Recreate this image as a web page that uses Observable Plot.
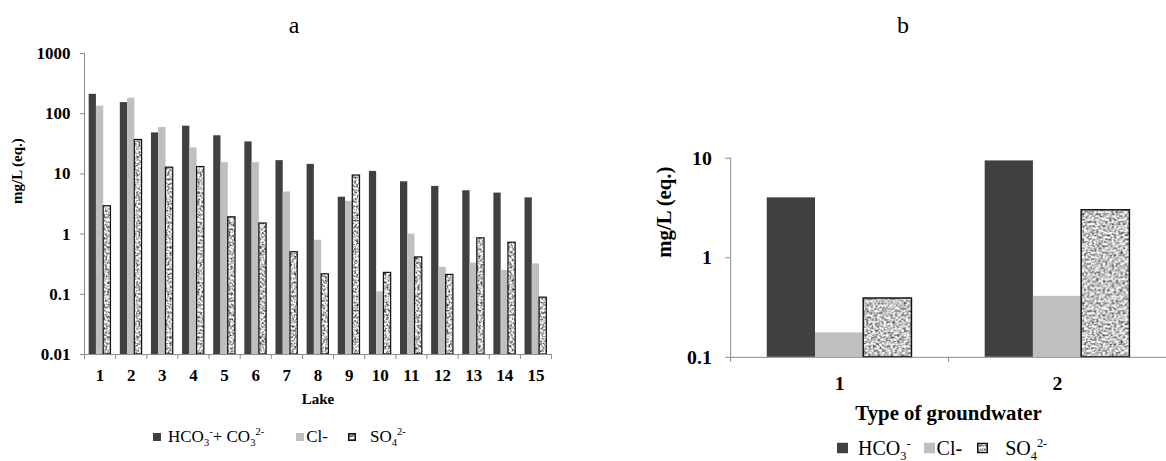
<!DOCTYPE html>
<html>
<head>
<meta charset="utf-8">
<script src="https://cdn.jsdelivr.net/npm/d3@7"></script>
<script src="https://cdn.jsdelivr.net/npm/@observablehq/plot@0.6"></script>
<style>
html, body { margin: 0; padding: 0; background: #fff; }
#root { position: relative; width: 1166px; height: 461px; overflow: hidden; background: #fff;
  font-family: "Liberation Serif", "Times New Roman", serif; color: #000; }
.title { position: absolute; font-size: 24px; transform: translate(-50%, -50%); }
.panel { position: absolute; }
.panel svg text { font-weight: bold; }
.legend { position: absolute; display: flex; align-items: center; white-space: nowrap; transform: translateY(-50%); }
.sw { display: block; flex: none; }
.legend sub, .legend sup { font-size: 0.62em; line-height: 0; }
#chartA g[aria-label="y-axis tick label"], #chartA g[aria-label="x-axis tick label"] { font-size: 17px; }
#chartB g[aria-label="y-axis tick label"], #chartB g[aria-label="x-axis tick label"] { font-size: 20px; }
</style>
</head>
<body>
<svg width="0" height="0" style="position:absolute">
  <defs>
    <filter id="noise" x="0" y="0" width="100%" height="100%" color-interpolation-filters="sRGB">
      <feTurbulence type="fractalNoise" baseFrequency="0.45" numOctaves="2" seed="5"/>
      <feColorMatrix type="matrix" values="1.7 0 0 0 -0.08  1.7 0 0 0 -0.08  1.7 0 0 0 -0.08  0 0 0 0 1"/>
    </filter>
    <pattern id="stipple" patternUnits="userSpaceOnUse" width="90" height="90">
      <rect width="90" height="90" filter="url(#noise)"/>
    </pattern>
  </defs>
</svg>
<div id="root">
  <div class="title" style="left:294px; top:25px;">a</div>
  <div class="title" style="left:903px; top:25px;">b</div>
  <div id="chartA" class="panel" style="left:0px; top:40px;"></div>
  <div id="chartB" class="panel" style="left:640px; top:130px;"></div>
  <div id="legendA" class="legend" style="left:153px; top:437px; font-size:17px;"></div>
  <div id="legendB" class="legend" style="left:837px; top:448px; font-size:20px;"></div>
</div>
<script>
// ---------- Panel a data (Lake 1..15) ----------
const lakes = [1, 2, 3, 4, 5, 6, 7, 8, 9, 10, 11, 12, 13, 14, 15];
const hco3A = [210, 153, 48, 62, 43, 34, 16.6, 14.4, 4.1, 11, 7.4, 6.2, 5.25, 4.8, 4.0];
const clA   = [133, 181, 59, 27, 15.4, 15.4, 5.0, 0.79, 3.5, 0.11, 1.0, 0.28, 0.33, 0.25, 0.32];
const so4A  = [2.9, 36.6, 12.7, 13, 1.9, 1.5, 0.50, 0.215, 9.4, 0.227, 0.41, 0.21, 0.85, 0.72, 0.088];
const yTicksA = [0.01, 0.1, 1, 10, 100, 1000];
const seriesLabelsA = ["HCO<sub>3</sub><sup>-</sup>+ CO<sub>3</sub><sup>2-</sup>", "Cl-", "SO<sub>4</sub><sup>2-</sup>"];

// ---------- Panel b data (Type of groundwater 1..2) ----------
const gwTypes = [1, 2];
const hco3B = [4.0, 9.4];
const clB   = [0.176, 0.41];
const so4B  = [0.39, 3.0];
const yTicksB = [0.1, 1, 10];
const seriesLabelsB = ["HCO<sub>3</sub><sup>-</sup>", "Cl-", "SO<sub>4</sub><sup>2-</sup>"];

// ---------- styles ----------
const seriesStyles = [
  {fill: "#404040", stroke: "none"},
  {fill: "#bfbfbf", stroke: "none"},
  {fill: "url(#stipple)", stroke: "#111"}
];
const axisGray = "#8c8c8c";
const fontFamily = '"Liberation Serif", "Times New Roman", serif';

function buildRows(cats, seriesArr) {
  return seriesArr.flatMap((vals, k) => vals.map((v, i) => ({cat: cats[i], k, value: v})));
}
function barX(groupFrac, n) {
  const w = groupFrac / n;
  return {
    x1: d => d.cat - groupFrac / 2 + d.k * w,
    x2: d => d.cat - groupFrac / 2 + (d.k + 1) * w
  };
}

function makeChart({cats, series, yTicks, groupFrac, strokeWidth, width, height, margins,
                    xLabel, tickPadX, xLabelDy, yLabelDx, tickSizeY, tickPadY, labelSize}) {
  const rows = buildRows(cats, series);
  const xDomain = [cats[0] - 0.5, cats[cats.length - 1] + 0.5];
  const bounds = cats.map(c => c - 0.5).concat([cats[cats.length - 1] + 0.5]);
  const yMin = yTicks[0];
  const pos = barX(groupFrac, series.length);
  const bars = series.map((_, k) => Plot.rectY(rows.filter(d => d.k === k), {
    ...pos, y1: yMin, y2: "value",
    fill: seriesStyles[k].fill, stroke: seriesStyles[k].stroke, strokeWidth
  }));
  return Plot.plot({
    width, height, ...margins,
    style: {fontFamily, background: "transparent", color: "#000", overflow: "visible"},
    x: {type: "linear", domain: xDomain, axis: null},
    y: {type: "log", domain: [yMin, yTicks[yTicks.length - 1]], axis: null},
    marks: [
      ...bars,
      Plot.ruleX([xDomain[0]], {stroke: axisGray}),
      Plot.ruleY([yMin], {stroke: axisGray}),
      Plot.axisY({ticks: yTicks, tickSize: tickSizeY, tickPadding: tickPadY, tickFormat: d => String(d),
        stroke: axisGray, fill: "#000", label: null}),
      Plot.axisX({ticks: bounds, tickSize: 5, tickFormat: () => "", stroke: axisGray, label: null}),
      Plot.axisX({ticks: cats, tickSize: 0, tickPadding: tickPadX, tickFormat: d => String(d),
        fill: "#000", label: null}),
      Plot.text([xLabel], {frameAnchor: "bottom", dy: xLabelDy, lineAnchor: "middle",
        fontSize: labelSize, fontWeight: "bold", fill: "#000"}),
      Plot.text(["mg/L (eq.)"], {frameAnchor: "left", dx: yLabelDx, rotate: -90, lineAnchor: "middle",
        fontSize: labelSize, fontWeight: "bold", fill: "#000"})
    ]
  });
}

document.getElementById("chartA").append(makeChart({
  cats: lakes, series: [hco3A, clA, so4A], yTicks: yTicksA, groupFrac: 0.70, strokeWidth: 1.2,
  width: 600, height: 370, margins: {marginTop: 13, marginBottom: 56, marginLeft: 84, marginRight: 49},
  xLabel: "Lake", tickPadX: 14, xLabelDy: 45, yLabelDx: -67, tickSizeY: 4, tickPadY: 10, labelSize: 15
}));

document.getElementById("chartB").append(makeChart({
  cats: gwTypes, series: [hco3B, clB, so4B], yTicks: yTicksB, groupFrac: 0.664, strokeWidth: 1.5,
  width: 531, height: 300, margins: {marginTop: 28, marginBottom: 71, marginLeft: 91, marginRight: 0},
  xLabel: "Type of groundwater", tickPadX: 19, xLabelDy: 57, yLabelDx: -67, tickSizeY: 5, tickPadY: 14, labelSize: 21
}));

function buildLegend(el, labels, swSize, gaps) {
  const ns = "http://www.w3.org/2000/svg";
  labels.forEach((lab, k) => {
    const sw = document.createElementNS(ns, "svg");
    sw.setAttribute("class", "sw");
    sw.setAttribute("width", swSize);
    sw.setAttribute("height", swSize);
    sw.style.marginLeft = (k === 0 ? 0 : gaps.between[k - 1]) + "px";
    const r = document.createElementNS(ns, "rect");
    const hasStroke = seriesStyles[k].stroke !== "none";
    r.setAttribute("x", hasStroke ? 0.75 : 0);
    r.setAttribute("y", hasStroke ? 0.75 : 0);
    r.setAttribute("width", hasStroke ? swSize - 1.5 : swSize);
    r.setAttribute("height", hasStroke ? swSize - 1.5 : swSize);
    r.setAttribute("fill", seriesStyles[k].fill);
    if (hasStroke) { r.setAttribute("stroke", seriesStyles[k].stroke); r.setAttribute("stroke-width", 1.5); }
    sw.append(r);
    const tx = document.createElement("span");
    tx.innerHTML = lab;
    tx.style.marginLeft = gaps.text[k] + "px";
    el.append(sw, tx);
  });
}
buildLegend(document.getElementById("legendA"), seriesLabelsA, 8, {between: [32, 20], text: [7, 2, 14]});
buildLegend(document.getElementById("legendB"), seriesLabelsB, 11, {between: [13, 15], text: [10, 2, 17]});
</script>
</body>
</html>
